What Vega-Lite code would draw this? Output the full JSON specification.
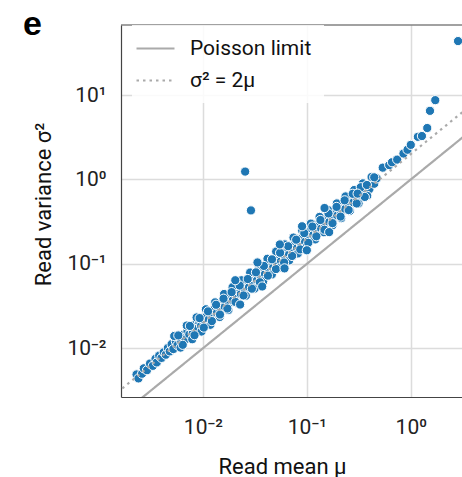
{
 "$schema": "https://vega.github.io/schema/vega-lite/v6.json",
 "width": 341, "height": 372,
 "autosize": {"type": "none"},
 "padding": {"left": 121, "top": 25, "right": 0, "bottom": 80},
 "background": "white",
 "config": {
  "view": {"stroke": null},
  "font": "Roboto",
  "axis": {"grid": true, "gridColor": "#dcdcdc", "gridWidth": 1.5, "ticks": false, "domainColor": "#444", "domainWidth": 1.2, "labelColor": "#222", "titleColor": "#111", "titleFontWeight": "normal", "labelFontSize": 21, "titleFontSize": 22, "labelFont": "Roboto", "titleFont": "Roboto"}
 },
 "title": {"text": "e", "anchor": "start", "frame": "group", "font": "Liberation Sans", "fontSize": 34, "fontWeight": "bold", "color": "black", "dx": -98, "offset": 0, "baseline": "alphabetic", "dy": 45},
 "datasets": {
  "pts": [
   {"mu":0.0023,"var":0.0049},{"mu":0.0024,"var":0.0044},{"mu":0.0026,"var":0.0050},{"mu":0.0027,"var":0.0058},{"mu":0.0029,"var":0.0055},
   {"mu":0.0031,"var":0.0066},{"mu":0.0033,"var":0.0062},{"mu":0.0035,"var":0.0075},{"mu":0.0036,"var":0.0068},{"mu":0.0038,"var":0.0082},
   {"mu":0.0040,"var":0.0077},{"mu":0.0042,"var":0.0090},{"mu":0.0044,"var":0.0084},{"mu":0.0046,"var":0.0101},{"mu":0.0048,"var":0.0092},
   {"mu":0.0050,"var":0.0112},{"mu":0.0052,"var":0.0098},{"mu":0.0055,"var":0.0121},{"mu":0.0057,"var":0.0109},{"mu":0.0060,"var":0.0134},
   {"mu":0.0062,"var":0.0120},{"mu":0.0065,"var":0.0145},{"mu":0.0068,"var":0.0128},{"mu":0.0071,"var":0.0160},{"mu":0.0074,"var":0.0146},
   {"mu":0.0077,"var":0.0175},{"mu":0.0080,"var":0.0152},{"mu":0.0084,"var":0.0190},{"mu":0.0088,"var":0.0171},{"mu":0.0092,"var":0.0205},
   {"mu":0.0096,"var":0.0185},{"mu":0.0100,"var":0.0230},{"mu":0.0104,"var":0.0196},{"mu":0.0109,"var":0.0248},{"mu":0.0114,"var":0.0219},
   {"mu":0.0119,"var":0.0270},{"mu":0.0124,"var":0.0236},{"mu":0.0130,"var":0.0300},{"mu":0.0136,"var":0.0262},{"mu":0.0142,"var":0.0325},
   {"mu":0.0148,"var":0.0280},{"mu":0.0155,"var":0.0360},{"mu":0.0162,"var":0.0310},{"mu":0.0170,"var":0.0395},{"mu":0.0178,"var":0.0335},
   {"mu":0.0186,"var":0.0430},{"mu":0.0194,"var":0.0370},{"mu":0.0203,"var":0.0468},{"mu":0.0212,"var":0.0400},{"mu":0.0222,"var":0.0520},
   {"mu":0.0232,"var":0.0440},{"mu":0.0243,"var":0.0560},{"mu":0.0254,"var":0.0480},{"mu":0.0266,"var":0.0620},{"mu":0.0278,"var":0.0530},
   {"mu":0.0290,"var":0.0680},{"mu":0.0303,"var":0.0580},{"mu":0.0317,"var":0.0730},{"mu":0.0332,"var":0.0640},{"mu":0.0347,"var":0.0810},
   {"mu":0.0362,"var":0.0690},{"mu":0.0379,"var":0.0880},{"mu":0.0396,"var":0.0760},{"mu":0.0414,"var":0.0960},{"mu":0.0433,"var":0.0830},
   {"mu":0.0452,"var":0.1050},{"mu":0.0473,"var":0.0900},{"mu":0.0494,"var":0.1150},{"mu":0.0517,"var":0.0990},{"mu":0.0540,"var":0.1250},
   {"mu":0.0565,"var":0.1080},{"mu":0.0590,"var":0.1370},{"mu":0.0617,"var":0.1180},{"mu":0.0645,"var":0.1500},{"mu":0.0674,"var":0.1290},
   {"mu":0.0705,"var":0.1640},{"mu":0.0737,"var":0.1400},{"mu":0.0770,"var":0.1790},{"mu":0.0805,"var":0.1540},{"mu":0.0842,"var":0.1960},
   {"mu":0.0880,"var":0.1680},{"mu":0.0920,"var":0.2140},{"mu":0.0962,"var":0.1830},{"mu":0.1006,"var":0.2330},{"mu":0.1052,"var":0.2000},
   {"mu":0.1100,"var":0.2560},{"mu":0.1150,"var":0.2190},{"mu":0.1202,"var":0.2790},{"mu":0.1257,"var":0.2400},{"mu":0.1314,"var":0.3060},
   {"mu":0.1374,"var":0.2620},{"mu":0.1436,"var":0.3340},{"mu":0.1501,"var":0.2870},{"mu":0.1570,"var":0.3650},{"mu":0.1641,"var":0.3130},
   {"mu":0.1716,"var":0.3990},{"mu":0.1794,"var":0.3420},{"mu":0.1875,"var":0.4350},{"mu":0.1960,"var":0.3740},{"mu":0.2049,"var":0.4760},
   {"mu":0.2143,"var":0.4090},{"mu":0.2240,"var":0.5200},{"mu":0.2342,"var":0.4470},{"mu":0.2448,"var":0.5680},{"mu":0.2559,"var":0.4890},
   {"mu":0.2676,"var":0.6200},{"mu":0.2797,"var":0.5350},{"mu":0.2924,"var":0.6780},{"mu":0.3057,"var":0.5850},{"mu":0.3196,"var":0.7400},
   {"mu":0.3341,"var":0.6400},{"mu":0.3493,"var":0.8100},{"mu":0.3652,"var":0.7000},{"mu":0.3818,"var":0.8850},{"mu":0.4000,"var":0.7700},
   {"mu":0.4200,"var":0.9600},{"mu":0.4450,"var":0.8900},{"mu":0.4700,"var":1.0300},
   {"mu":0.0053,"var":0.0140},{"mu":0.0061,"var":0.0102},{"mu":0.0070,"var":0.0186},{"mu":0.0079,"var":0.0128},{"mu":0.0087,"var":0.0232},
   {"mu":0.0097,"var":0.0158},{"mu":0.0107,"var":0.0290},{"mu":0.0118,"var":0.0190},{"mu":0.0131,"var":0.0350},{"mu":0.0145,"var":0.0235},
   {"mu":0.0160,"var":0.0440},{"mu":0.0176,"var":0.0285},{"mu":0.0193,"var":0.0530},{"mu":0.0213,"var":0.0345},{"mu":0.0235,"var":0.0640},
   {"mu":0.0259,"var":0.0420},{"mu":0.0285,"var":0.0790},{"mu":0.0314,"var":0.0510},{"mu":0.0345,"var":0.0950},{"mu":0.0380,"var":0.0620},
   {"mu":0.0418,"var":0.1150},{"mu":0.0461,"var":0.0750},{"mu":0.0507,"var":0.1400},{"mu":0.0558,"var":0.0910},{"mu":0.0614,"var":0.1700},
   {"mu":0.0676,"var":0.1100},{"mu":0.0744,"var":0.2050},{"mu":0.0819,"var":0.1330},{"mu":0.0902,"var":0.2480},{"mu":0.0993,"var":0.1600},
   {"mu":0.1093,"var":0.3000},{"mu":0.1203,"var":0.1950},{"mu":0.1325,"var":0.3600},{"mu":0.1458,"var":0.2370},{"mu":0.1605,"var":0.4350},
   {"mu":0.1767,"var":0.2870},{"mu":0.1945,"var":0.5200},{"mu":0.2141,"var":0.3480},{"mu":0.2357,"var":0.6300},{"mu":0.2595,"var":0.4250},
   {"mu":0.2857,"var":0.7500},{"mu":0.3145,"var":0.5200},{"mu":0.3462,"var":0.9000},{"mu":0.3811,"var":0.6400},{"mu":0.4195,"var":1.0700},
   {"mu":0.0058,"var":0.0142},{"mu":0.0064,"var":0.0110},{"mu":0.0075,"var":0.0184},{"mu":0.0083,"var":0.0143},{"mu":0.0093,"var":0.0228},
   {"mu":0.0102,"var":0.0176},{"mu":0.0112,"var":0.0274},{"mu":0.0122,"var":0.0210},{"mu":0.0134,"var":0.0328},{"mu":0.0146,"var":0.0251},
   {"mu":0.0158,"var":0.0387},{"mu":0.0172,"var":0.0296},{"mu":0.0189,"var":0.0463},{"mu":0.0206,"var":0.0354},{"mu":0.0226,"var":0.0554},
   {"mu":0.0246,"var":0.0423},{"mu":0.0270,"var":0.0662},{"mu":0.0296,"var":0.0509},{"mu":0.0324,"var":0.0794},{"mu":0.0353,"var":0.0607},
   {"mu":0.0386,"var":0.0946},{"mu":0.0422,"var":0.0726},{"mu":0.0462,"var":0.1132},{"mu":0.0505,"var":0.0869},{"mu":0.0553,"var":0.1355},
   {"mu":0.0604,"var":0.1039},{"mu":0.0661,"var":0.1619},{"mu":0.0722,"var":0.1242},{"mu":0.0790,"var":0.1936},{"mu":0.0864,"var":0.1486},
   {"mu":0.0945,"var":0.2315},{"mu":0.1033,"var":0.1777},{"mu":0.1130,"var":0.2769},{"mu":0.1235,"var":0.2124},{"mu":0.1351,"var":0.3310},
   {"mu":0.1477,"var":0.2540},{"mu":0.1616,"var":0.3959},{"mu":0.1766,"var":0.3038},{"mu":0.1932,"var":0.4733},{"mu":0.2112,"var":0.3633},
   {"mu":0.2310,"var":0.5660},{"mu":0.2525,"var":0.4343},{"mu":0.2762,"var":0.6767},{"mu":0.3019,"var":0.5193},{"mu":0.3303,"var":0.8092},
   {"mu":0.3610,"var":0.6209},
   {"mu":0.0205,"var":0.0640},{"mu":0.0228,"var":0.0330},{"mu":0.0335,"var":0.1040},{"mu":0.0372,"var":0.0540},{"mu":0.0550,"var":0.1700},
   {"mu":0.0610,"var":0.0885},{"mu":0.0900,"var":0.2790},{"mu":0.1000,"var":0.1450},{"mu":0.1480,"var":0.4590},{"mu":0.1640,"var":0.2380},
   {"mu":0.308,"var":0.68},{"mu":0.378,"var":0.86},{"mu":0.445,"var":1.06},{"mu":0.537,"var":1.38},{"mu":0.62,"var":1.48},
   {"mu":0.66,"var":1.6},{"mu":0.74,"var":1.72},{"mu":0.85,"var":2.03},{"mu":0.93,"var":2.25},{"mu":1.0,"var":2.57},
   {"mu":1.17,"var":3.2},{"mu":1.28,"var":3.27},{"mu":1.44,"var":4.07},{"mu":1.53,"var":6.5},{"mu":1.72,"var":8.7},
   {"mu":2.85,"var":43.6},{"mu":0.0255,"var":1.24},{"mu":0.029,"var":0.43}
  ],
  "lines": [
   {"series":"Poisson limit","mu":0.0015,"var":0.0015},{"series":"Poisson limit","mu":3.2,"var":3.2},
   {"series":"σ² = 2μ","mu":0.0015,"var":0.003},{"series":"σ² = 2μ","mu":3.2,"var":6.4}
  ]
 },
 "layer": [
  {
   "data": {"name": "pts"},
   "mark": {"type": "circle", "fill": "#1f77b4", "stroke": "white", "strokeWidth": 1, "opacity": 1, "size": 85, "clip": true},
   "encoding": {
    "x": {"field": "mu", "type": "quantitative", "scale": {"type": "log", "domain": [0.00163, 3.11], "nice": false},
      "axis": {"values": [0.01, 0.1, 1], "labelExpr": "datum.value < 0.05 ? '10⁻²' : datum.value < 0.5 ? '10⁻¹' : '10⁰'", "labelBaseline": "alphabetic", "labelPadding": 36, "title": "Read mean μ", "titleBaseline": "alphabetic", "titleY": 76, "titleX": 161}},
    "y": {"field": "var", "type": "quantitative", "scale": {"type": "log", "domain": [0.00265, 67.6], "nice": false},
      "axis": {"values": [0.01, 0.1, 1, 10], "labelExpr": "datum.value < 0.05 ? '10⁻²' : datum.value < 0.5 ? '10⁻¹' : datum.value < 5 ? '10⁰' : '10¹'", "labelPadding": 15, "title": "Read variance σ²", "titleBaseline": "alphabetic", "titleX": -71, "titleY": 179, "titleAlign": "center"}}
   }
  },
  {
   "data": {"name": "lines"},
   "mark": {"type": "line", "color": "#aaaaaa", "strokeWidth": 2.2, "clip": true},
   "encoding": {
    "x": {"field": "mu", "type": "quantitative"},
    "y": {"field": "var", "type": "quantitative"},
    "strokeDash": {"field": "series", "type": "nominal", "scale": {"domain": ["Poisson limit", "σ² = 2μ"], "range": [[1, 0], [2.5, 4]]},
      "legend": {"title": null, "orient": "none", "legendX": 11, "legendY": 0, "padding": 12.5, "fillColor": "rgba(255,255,255,0.85)", "symbolType": "M-2,0H2", "symbolSize": 361, "symbolStrokeColor": "#aaaaaa", "symbolStrokeWidth": 2.2, "symbolFillColor": "transparent", "labelFontSize": 21, "labelFont": "Roboto", "labelColor": "#111", "labelOffset": 23.5, "rowPadding": 11}}
   }
  },
  {
   "data": {"values": [{"top": 67.6}]},
   "mark": {"type": "rule", "color": "#444", "strokeWidth": 1.2},
   "encoding": {"y": {"field": "top", "type": "quantitative"}}
  }
 ]
}
